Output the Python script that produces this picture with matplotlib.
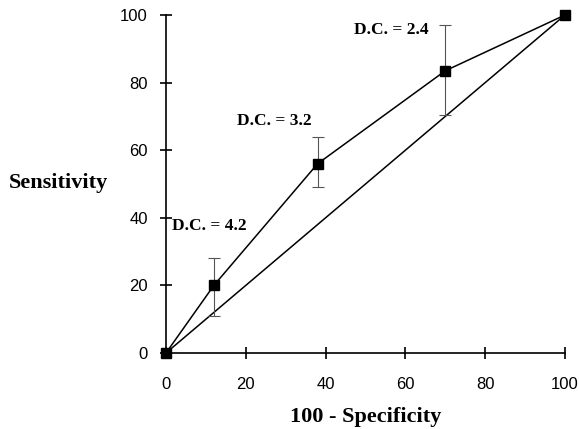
import matplotlib.pyplot as plt

# ROC points
fpr = [0, 12, 38, 70, 100]
sens = [0, 20, 56, 83.5, 100]
err_lo = [0, 9, 7, 13, 0]
err_hi = [0, 8, 8, 13.5, 0]
diag = [0, 100]
labels = ["D.C. = 4.2", "D.C. = 3.2", "D.C. = 2.4"]
label_pos = [(1.5, 37.5), (17.8, 68.5), (47.2, 95.5)]

fig = plt.figure(figsize=(5.79, 4.29), dpi=100)
ax = fig.add_axes([0.2867, 0.1772, 0.6891, 0.7878])

ax.plot(diag, diag, color="black", lw=1.1, clip_on=False)
ax.errorbar(fpr[1:4], sens[1:4], yerr=[err_lo[1:4], err_hi[1:4]], fmt="none",
            ecolor="#555555", elinewidth=0.8, capsize=4, capthick=0.8)
ax.plot(fpr, sens, color="black", lw=1.1, marker="s", markersize=6.5, clip_on=False,
        zorder=5)

for t, (x, y) in zip(labels, label_pos):
    ax.text(x, y, t, fontfamily="Liberation Serif", fontweight="bold", fontsize=12.5,
            ha="left", va="center")

ax.set_xlim(0, 100)
ax.set_ylim(0, 100)
ax.set_xticks([0, 20, 40, 60, 80, 100])
ax.set_yticks([0, 20, 40, 60, 80, 100])
ax.spines["top"].set_visible(False)
ax.spines["right"].set_visible(False)
ax.spines["left"].set_linewidth(1.2)
ax.spines["bottom"].set_linewidth(1.2)
ax.tick_params(direction="inout", length=8, width=1.2, labelsize=12)
ax.tick_params(axis="x", pad=13)
ax.tick_params(axis="y", pad=9)
for lab in ax.get_xticklabels() + ax.get_yticklabels():
    lab.set_fontfamily("Liberation Sans")

ax.set_xlabel("100 - Specificity", fontfamily="Liberation Serif", fontweight="bold",
              fontsize=16, labelpad=11)
fig.text(0.015, 1 - 183 / 429, "Sensitivity", fontfamily="Liberation Serif",
         fontweight="bold", fontsize=16, ha="left", va="center")

fig.savefig("out.png", dpi=100)
